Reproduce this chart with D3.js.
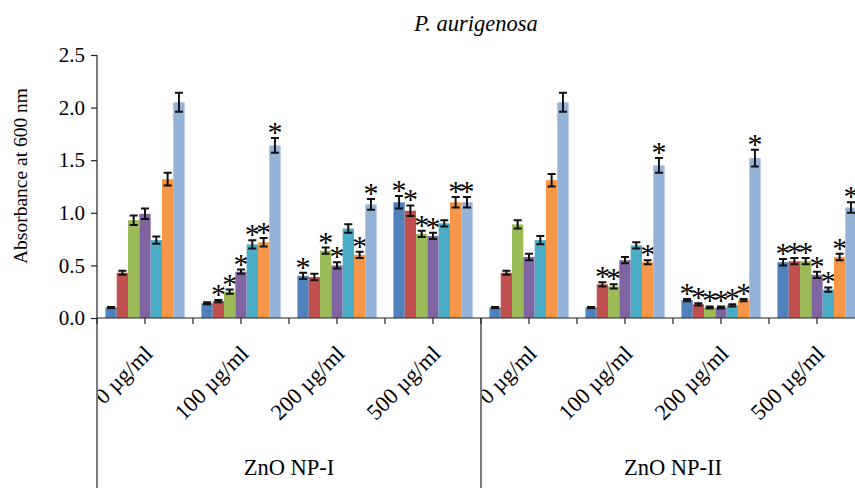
<!DOCTYPE html>
<html>
<head>
<meta charset="utf-8">
<script src="https://cdn.jsdelivr.net/npm/d3@7"></script>
<style>
  body { margin: 0; background: #fff; }
  svg { display: block; font-family: "Liberation Serif", "Times New Roman", serif; }
</style>
</head>
<body>
<svg width="855" height="488"></svg>
<script>
// categories
var sections = ["ZnO NP-I", "ZnO NP-II"];
var doses = ["0 µg/ml", "100 µg/ml", "200 µg/ml", "500 µg/ml"];
var groups = ["I-0", "I-100", "I-200", "I-500", "II-0", "II-100", "II-200", "II-500"];
var seriesNames = ["s1", "s2", "s3", "s4", "s5", "s6", "s7"];
var yTicks = [0, 0.5, 1.0, 1.5, 2.0, 2.5];

// values per series (one per group)
var s1 = [0.10, 0.14, 0.40, 1.10, 0.10, 0.10, 0.17, 0.53];
var s2 = [0.43, 0.16, 0.39, 1.02, 0.43, 0.32, 0.13, 0.54];
var s3 = [0.93, 0.25, 0.64, 0.80, 0.89, 0.30, 0.10, 0.54];
var s4 = [0.99, 0.44, 0.50, 0.78, 0.58, 0.55, 0.10, 0.41];
var s5 = [0.74, 0.70, 0.85, 0.90, 0.74, 0.69, 0.12, 0.27];
var s6 = [1.32, 0.72, 0.60, 1.10, 1.31, 0.53, 0.17, 0.58];
var s7 = [2.05, 1.64, 1.08, 1.10, 2.05, 1.45, 1.52, 1.05];

// error bars
var e1 = [0.005, 0.01, 0.03, 0.06, 0.005, 0.005, 0.01, 0.03];
var e2 = [0.02, 0.01, 0.03, 0.05, 0.02, 0.02, 0.01, 0.03];
var e3 = [0.045, 0.02, 0.03, 0.03, 0.04, 0.02, 0.01, 0.03];
var e4 = [0.05, 0.02, 0.03, 0.03, 0.03, 0.03, 0.01, 0.03];
var e5 = [0.035, 0.04, 0.04, 0.03, 0.04, 0.03, 0.01, 0.02];
var e6 = [0.06, 0.04, 0.03, 0.05, 0.06, 0.02, 0.01, 0.03];
var e7 = [0.09, 0.07, 0.05, 0.05, 0.09, 0.07, 0.08, 0.05];

// significance stars (1 = *)
var a1 = [0, 0, 1, 1, 0, 0, 1, 1];
var a2 = [0, 1, 0, 1, 0, 1, 1, 1];
var a3 = [0, 1, 1, 1, 0, 1, 1, 1];
var a4 = [0, 1, 1, 1, 0, 0, 1, 1];
var a5 = [0, 1, 0, 0, 0, 0, 1, 1];
var a6 = [0, 1, 1, 1, 0, 1, 1, 1];
var a7 = [0, 1, 1, 1, 0, 1, 1, 1];

var values = [s1, s2, s3, s4, s5, s6, s7];
var errors = [e1, e2, e3, e4, e5, e6, e7];
var stars = [a1, a2, a3, a4, a5, a6, a7];

var colors = ["#4F81BD", "#C0504D", "#9BBB59", "#8064A2", "#4BACC6", "#F79646", "#95B3D7"];

var svg = d3.select("svg"),
    plotLeft = 97,
    plotRight = 865,
    plotTop = 55,
    plotBottom = 318;

var x0 = d3.scaleBand()
    .domain(groups)
    .range([plotLeft, plotRight])
    .paddingInner(0.175)
    .paddingOuter(0.0875);

var x1 = d3.scaleBand()
    .domain(seriesNames)
    .range([0, x0.bandwidth()]);

var y = d3.scaleLinear()
    .domain([0, 2.5])
    .range([plotBottom, plotTop]);

var z = d3.scaleOrdinal()
    .domain(seriesNames)
    .range(colors);

// flat list of bars
var bars = [];
groups.forEach(function (g, gi) {
    seriesNames.forEach(function (s, si) {
        bars.push({ group: g, gi: gi, key: s, value: values[si][gi], err: errors[si][gi], star: stars[si][gi] });
    });
});

// title
svg.append("text")
    .attr("x", 476)
    .attr("y", 31)
    .attr("text-anchor", "middle")
    .attr("font-style", "italic")
    .attr("font-size", 22.5)
    .text("P. aurigenosa");

// y axis
var yAxis = svg.append("g")
    .attr("transform", "translate(" + plotLeft + ",0)")
    .call(d3.axisLeft(y).tickValues(yTicks).tickFormat(d3.format(".1f")).tickSize(6).tickPadding(6));
yAxis.select(".domain").remove();
yAxis.selectAll("line").attr("stroke", "#222").attr("stroke-width", 1.2);
yAxis.selectAll("text")
    .attr("font-family", "Liberation Serif, serif")
    .attr("font-size", 21)
    .attr("fill", "#000");

svg.append("text")
    .attr("transform", "translate(27,176) rotate(-90)")
    .attr("text-anchor", "middle")
    .attr("font-size", 19.5)
    .text("Absorbance at 600 nm");

// bars
var barG = svg.append("g").selectAll("g")
    .data(bars)
    .enter().append("g")
    .attr("transform", function (d) { return "translate(" + (x0(d.group) + x1(d.key)) + ",0)"; });

barG.append("rect")
    .attr("y", function (d) { return y(d.value); })
    .attr("width", x1.bandwidth())
    .attr("height", function (d) { return y(0) - y(d.value); })
    .attr("fill", function (d) { return z(d.key); });

// error bars
var cap = 4;
barG.append("path")
    .attr("fill", "none")
    .attr("stroke", "#111")
    .attr("stroke-width", 2)
    .attr("d", function (d) {
        var c = x1.bandwidth() / 2,
            t = y(d.value + d.err),
            b = y(Math.max(0, d.value - d.err));
        return "M" + (c - cap) + "," + t + "H" + (c + cap) +
            "M" + c + "," + t + "V" + b +
            "M" + (c - cap) + "," + b + "H" + (c + cap);
    });

// stars sit just above the error cap
barG.filter(function (d) { return d.star; })
    .append("text")
    .attr("x", x1.bandwidth() / 2)
    .attr("y", function (d) { return y(d.value + d.err) + 4; })
    .attr("text-anchor", "middle")
    .attr("font-size", 30)
    .attr("fill", "#000")
    .text("*");

// x axis line and ticks (boundaries and centres)
svg.append("line")
    .attr("x1", plotLeft).attr("x2", 855)
    .attr("y1", plotBottom).attr("y2", plotBottom)
    .attr("stroke", "#222").attr("stroke-width", 1.2);

var step = x0.step();
var tickPos = [];
groups.forEach(function (g, i) {
    tickPos.push(plotLeft + i * step);
    tickPos.push(plotLeft + i * step + step / 2);
});
svg.append("g").selectAll("line")
    .data(tickPos)
    .enter().append("line")
    .attr("x1", function (d) { return d; }).attr("x2", function (d) { return d; })
    .attr("y1", plotBottom).attr("y2", plotBottom + 6)
    .attr("stroke", "#222").attr("stroke-width", 1.2);

// vertical axis and section separator
svg.append("line")
    .attr("x1", plotLeft).attr("x2", plotLeft)
    .attr("y1", plotTop).attr("y2", 488)
    .attr("stroke", "#222").attr("stroke-width", 1.2);
svg.append("line")
    .attr("x1", plotLeft + 4 * step).attr("x2", plotLeft + 4 * step)
    .attr("y1", plotBottom).attr("y2", 488)
    .attr("stroke", "#222").attr("stroke-width", 1.2);

// clip the dose labels to each section
var defs = svg.append("defs");
sections.forEach(function (s, i) {
    defs.append("clipPath").attr("id", "clip" + i)
        .append("rect")
        .attr("x", plotLeft + i * 4 * step + 1)
        .attr("y", plotBottom)
        .attr("width", 4 * step - 1)
        .attr("height", 170);
});

sections.forEach(function (s, si) {
    svg.append("g")
        .attr("clip-path", "url(#clip" + si + ")")
        .selectAll("text")
        .data(doses)
        .enter().append("text")
        .attr("transform", function (d, i) {
            var cx = x0(groups[si * 4 + i]) + x0.bandwidth() / 2;
            return "translate(" + (cx + 9) + ",355) rotate(-45)";
        })
        .attr("text-anchor", "end")
        .attr("font-size", 22.5)
        .text(function (d) { return d; });
});

svg.append("g").selectAll("text")
    .data(sections)
    .enter().append("text")
    .attr("x", function (d, i) { return plotLeft + i * 4 * step + 2 * step; })
    .attr("y", 475)
    .attr("text-anchor", "middle")
    .attr("font-size", 22.5)
    .text(function (d) { return d; });
</script>
</body>
</html>
